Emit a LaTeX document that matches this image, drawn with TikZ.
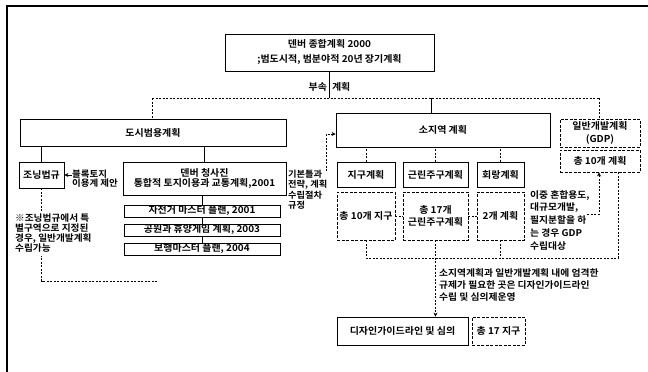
\documentclass[tikz,border=0pt]{standalone}
\usepackage{fontspec}
\setmainfont{Noto Sans CJK KR}[FakeStretch=1.05, BoldFont={Noto Sans CJK KR Bold}]
\usetikzlibrary{arrows.meta}
\begin{document}
\begin{tikzpicture}[x=1pt,y=-1pt,
  every node/.style={inner sep=0pt, font=\fontsize{9.5}{10}\selectfont\bfseries},
  box/.style={draw, line width=0.9pt, align=center},
  dbox/.style={box, dash pattern=on 3pt off 1.5pt},
  conn/.style={line width=0.6pt},
  dconn/.style={line width=0.6pt, dash pattern=on 2pt off 1.5pt},
  tip/.style={-{Stealth[length=4pt,width=4pt]}},
  lbl/.style={align=left}]
\useasboundingbox (0,0) rectangle (648,372);
\draw[line width=1.5pt] (7,372) -- (7,6) -- (648,6);

% main boxes
\node[box, minimum width=209, minimum height=37, font=\fontsize{9.5}{15}\selectfont\bfseries] (top) at (329.5,52.5) {덴버 종합계획 2000\\;범도시적, 범분야적 20년 장기계획};
\node[box, minimum width=266, minimum height=27] (dosi) at (153,132.5) {도시범용계획};
\node[box, minimum width=214, minimum height=34] (soji) at (443,130) {소지역 계획};
\node[dbox, minimum width=80, minimum height=28, font=\fontsize{9.5}{13}\selectfont\bfseries] (gdp) at (600,133) {일반개발계획\\(GDP)};
\node[dbox, minimum width=80, minimum height=22] (ten) at (600,161) {총 10개 계획};

% left branch
\node[box, minimum width=45, minimum height=26] (zoning) at (41.5,175) {조닝법규};
\node[box, minimum width=163, minimum height=33, font=\fontsize{9.5}{10.5}\selectfont\bfseries] (denver) at (204.5,178.5) {덴버 청사진\\통합적 토지이용과 교통계획,2001};
\node[box, minimum width=156, minimum height=12] (bike) at (202,211) {자전거 마스터 플랜, 2001};
\node[box, minimum width=156, minimum height=12] (park) at (202,230) {공원과 휴양게임 계획, 2003};
\node[box, minimum width=156, minimum height=12] (walk) at (202,249) {보행마스터 플랜, 2004};

% dashed line from zoning (hidden behind note)
\coordinate (zc) at (41.5,281);
\coordinate (zd) at (158,281);
\draw[dconn] (zoning.south) -- (zc) -- (zd);
\node[lbl, anchor=north west, fill=white, inner sep=3pt, font=\fontsize{9.2}{9.6}\selectfont\bfseries] (note) at (12,211) {※조닝법규에서 특\\별구역으로 지정된\\경우, 일반개발계획\\수립가능};

\node[lbl, anchor=north west, font=\fontsize{9}{9}\selectfont\bfseries] (block) at (72,170) {블록토지\\이용계 제안};
\node[lbl, anchor=north west, font=\fontsize{8.8}{10.3}\selectfont\bfseries] (basic) at (288,170) {기본틀과\\전략, 계획\\수립절차\\규정};

% small-area branch
\node[box, minimum width=58, minimum height=25] (jigu) at (366,174.5) {지구계획};
\node[box, minimum width=65, minimum height=25] (gunrin) at (435.5,174.5) {근린주구계획};
\node[box, minimum width=47, minimum height=25] (corr) at (500.5,174.5) {회랑계획};
\node[dbox, minimum width=58, minimum height=48] (jigu2) at (366,216) {총 10개 지구};
\node[dbox, minimum width=65, minimum height=48, font=\fontsize{9.5}{12}\selectfont\bfseries] (gunrin2) at (435.5,216) {총 17개\\근린주구계획};
\node[dbox, minimum width=47, minimum height=48] (corr2) at (500.5,216) {2개 계획};
\node[lbl, anchor=north west, font=\fontsize{9.3}{12.8}\selectfont\bfseries] (mixed) at (530,190) {이중 혼합용도,\\대규모개발,\\필지분할을 하\\는 경우 GDP\\수립대상};

% design
\node[box, minimum width=131, minimum height=28] (design) at (402.5,331) {디자인가이드라인 및 심의};
\node[dbox, minimum width=53, minimum height=28] (d17) at (498.5,331) {총 17 지구};
\node[lbl, anchor=north west, font=\fontsize{9.3}{12}\selectfont\bfseries] (dnote) at (439,268) {소지역계획과 일반개발계획 내에 엄격한\\규제가 필요한 곳은 디자인가이드라인\\수립 및 심의제운영};

% top connectors
\coordinate (jt) at (329.5,98);
\coordinate (jl) at (152,98);
\coordinate (jm) at (431,98);
\coordinate (jr) at (599,98);
\draw[conn] (top.south) -- (jt);
\node (busok) at (329.5,87) {부속\hspace{5pt}계획};
\draw[dconn] (jl) -- (jr);
\draw[dconn] (jl) -- (jl |- dosi.north);
\draw[conn] (jm) -- (jm |- soji.north);
\draw[dconn] (jr) -- (jr |- gdp.north);

% left connectors
\draw[conn] (zoning.north) -- (zoning.north |- dosi.south);
\draw[conn] (denver.north) -- (denver.north |- dosi.south);
\draw[conn] (bike.north) -- (bike.north |- denver.south);
\draw[conn] (park.north) -- (bike.south);
\draw[conn] (walk.north) -- (park.south);
\draw[conn, tip] (block.west |- zoning.east) -- (zoning.east);
\coordinate (ba) at (326,171);
\coordinate (bb) at (326,134);
\draw[dconn, tip] (ba) -- (bb) -- (bb -| soji.west);

% small-area connectors
\draw[dconn] (jigu.north) -- (jigu.north |- soji.south);
\draw[dconn] (gunrin.north) -- (gunrin.north |- soji.south);
\draw[dconn] (corr.north) -- (corr.north |- soji.south);
\draw[dconn] (jigu2.east) -- (gunrin2.west);
\draw[dconn] (gunrin2.east) -- (corr2.west);
\coordinate (ga) at (587,214);
\coordinate (gb) at (599,214);
\draw[dconn, tip] (ga) -- (gb) -- (gb |- ten.south);

% bottom connectors
\coordinate (bl) at (366,258);
\coordinate (br) at (618,258);
\draw[dconn] (jigu2.south) -- (bl) -- (br);
\draw[dconn] (corr2.south) -- (corr2.south |- bl);
\draw[dconn] (br) -- (br |- ten.south);
\draw[dconn, tip] (gunrin2.south) -- (gunrin2.south |- design.north);
\end{tikzpicture}
\end{document}
